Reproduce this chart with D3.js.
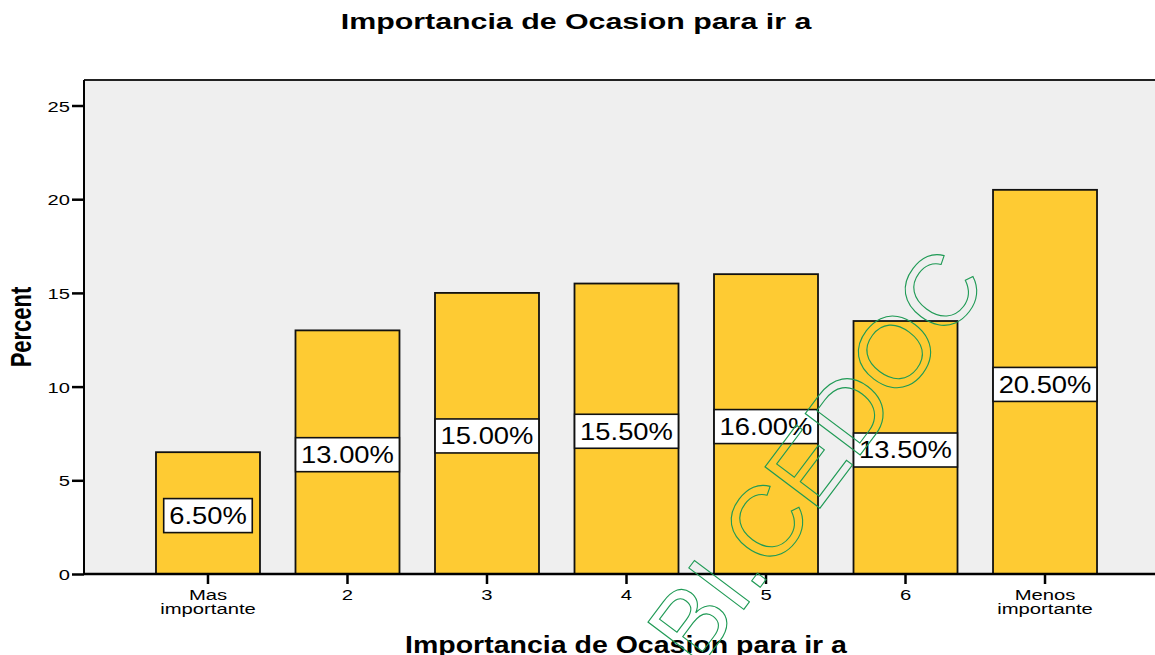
<!DOCTYPE html>
<html>
<head>
<meta charset="utf-8">
<script src="https://cdn.jsdelivr.net/npm/d3@7"></script>
<style>
body { margin: 0; background: #fff; }
text { font-family: Arial, "Liberation Sans", sans-serif; }
</style>
</head>
<body>
<svg id="chart"></svg>
<script>
const categories = ['Mas importante', '2', '3', '4', '5', '6', 'Menos importante'];
const percents = [6.5, 13.0, 15.0, 15.5, 16.0, 13.5, 20.5];
const yTicks = [0, 5, 10, 15, 20, 25];
const chartTitle = 'Importancia de Ocasion para ir a';
const xTitle = 'Importancia de Ocasion para ir a';
const yTitle = 'Percent';
const watermark = 'BI.CEDOC';

const fullWidth = 1155;
const fullHeight = 655;
const plot = {left: 84, top: 80, right: 1169, bottom: 574};

const svg = d3.select('#chart')
    .attr('width', fullWidth)
    .attr('height', fullHeight);

const x = d3.scaleBand()
    .domain(categories)
    .range([plot.left, plot.right])
    .paddingInner(0.2545)
    .paddingOuter(0.516);

const y = d3.scaleLinear()
    .domain([0, 25])
    .range([plot.bottom, 105.5]);

// plot background + frame
svg.append('rect')
    .attr('x', plot.left)
    .attr('y', plot.top)
    .attr('width', plot.right - plot.left)
    .attr('height', plot.bottom - plot.top)
    .attr('fill', '#efefef');

svg.append('line')
    .attr('x1', plot.left).attr('x2', plot.right)
    .attr('y1', plot.top).attr('y2', plot.top)
    .attr('stroke', '#222').attr('stroke-width', 2);

// bars
svg.append('g').selectAll('rect')
    .data(percents)
    .join('rect')
    .attr('x', (d, i) => x(categories[i]))
    .attr('y', d => y(d))
    .attr('width', x.bandwidth())
    .attr('height', d => y(0) - y(d))
    .attr('fill', '#fecb33')
    .attr('stroke', '#111')
    .attr('stroke-width', 1.8);

// axes
const yAxis = svg.append('g')
    .attr('transform', `translate(${plot.left},0)`)
    .call(d3.axisLeft(y).tickValues(yTicks).tickSize(12).tickSizeOuter(0).tickPadding(0));

const ySx = 1.3;
yAxis.select('.domain').attr('stroke', '#000').attr('stroke-width', 2)
    .attr('d', `M0,${plot.top}V${plot.bottom}`);
yAxis.selectAll('.tick line').attr('stroke', '#000').attr('stroke-width', 2.5);
yAxis.selectAll('.tick text')
    .attr('font-size', 15.5)
    .attr('fill', '#000')
    .attr('x', -14 / ySx)
    .attr('dy', '0.36em')
    .attr('transform', `scale(${ySx},1)`);

const xAxis = svg.append('g')
    .attr('transform', `translate(0,${plot.bottom})`)
    .call(d3.axisBottom(x).tickSize(10).tickSizeOuter(0));

const xSx = 1.35;
xAxis.select('.domain').attr('stroke', '#000').attr('stroke-width', 2.5)
    .attr('d', `M${plot.left},0H${plot.right}`);
xAxis.selectAll('.tick line').attr('stroke', '#000').attr('stroke-width', 2.5);
xAxis.selectAll('.tick text')
    .attr('font-size', 15)
    .attr('fill', '#000')
    .attr('transform', `scale(${xSx},1)`)
    .attr('y', 0)
    .attr('dy', null)
    .text(null)
    .each(function(d) {
        const words = d.split(' ');
        const t = d3.select(this);
        words.forEach((w, k) => {
            t.append('tspan').attr('x', 0).attr('y', 26 + k * 14).text(w);
        });
    });

// value labels with boxes
const labelSx = 1.19;
const labels = svg.append('g').selectAll('g')
    .data(percents)
    .join('g')
    .attr('transform', (d, i) => `translate(${x(categories[i]) + x.bandwidth() / 2},${y(d / 2) + 2.5})`);

labels.each(function(d) {
    const g = d3.select(this);
    const box = g.append('rect');
    const t = g.append('text')
        .attr('font-size', 23)
        .attr('text-anchor', 'middle')
        .attr('y', 8.3)
        .attr('transform', `scale(${labelSx},1)`)
        .attr('fill', '#000')
        .text(d.toFixed(2) + '%');
    const w = t.node().getBBox().width * labelSx + 11;
    box.attr('x', -w / 2)
        .attr('y', -17)
        .attr('width', w)
        .attr('height', 34)
        .attr('fill', '#fff')
        .attr('stroke', '#111')
        .attr('stroke-width', 1.6);
});

// titles
svg.append('g')
    .attr('transform', `translate(576,29)`)
    .append('text')
    .attr('text-anchor', 'middle')
    .attr('font-size', 22)
    .attr('font-weight', 'bold')
    .attr('transform', 'scale(1.38,1)')
    .text(chartTitle);

svg.append('g')
    .attr('transform', `translate(626,653)`)
    .append('text')
    .attr('text-anchor', 'middle')
    .attr('font-size', 23)
    .attr('font-weight', 'bold')
    .attr('transform', 'scale(1.24,1)')
    .text(xTitle);

svg.append('g')
    .attr('transform', `translate(31,${(plot.top + plot.bottom) / 2}) scale(1.35,1) rotate(-90)`)
    .append('text')
    .attr('text-anchor', 'middle')
    .attr('font-size', 22)
    .attr('font-weight', 'bold')
    .text(yTitle);

// watermark
svg.append('text')
    .attr('transform', 'translate(698,670) rotate(-53)')
    .attr('font-size', 100)
    .attr('fill', 'none')
    .attr('stroke', '#1f9a55')
    .attr('stroke-width', 1.1)
    .text(watermark);
</script>
</body>
</html>
